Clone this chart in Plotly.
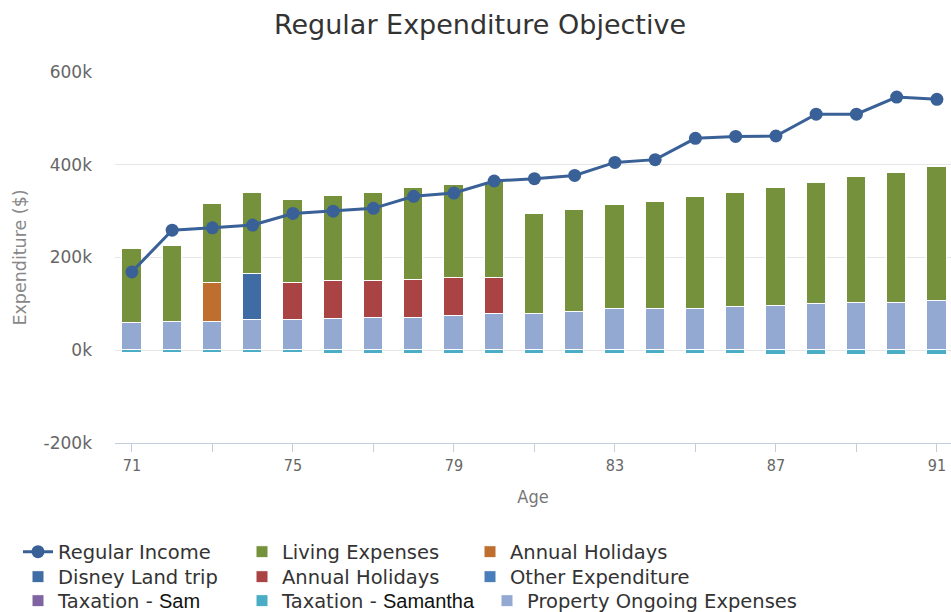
import plotly.graph_objects as go

# ---------------- data (values in $) ----------------
ages = [71, 72, 73, 74, 75, 76, 77, 78, 79, 80, 81, 82, 83, 84, 85, 86, 87, 88, 89, 90, 91]

regular_income = [169000, 259000, 264000, 270000, 295000, 300000, 306000, 332000, 339000, 365000,
                  370000, 377000, 405000, 411000, 457000, 461000, 462000, 509000, 509000, 546000, 541000]

living_expenses = [159000, 163000, 171000, 174000, 180000, 183000, 190000, 197000, 202000, 208000,
                   214000, 220000, 225000, 231000, 240000, 246000, 253000, 260000, 271000, 281000, 289000]

annual_holidays_1 = [0, 0, 84000, 0, 0, 0, 0, 0, 0, 0,
                     0, 0, 0, 0, 0, 0, 0, 0, 0, 0, 0]

disney_land_trip = [0, 0, 0, 99000, 0, 0, 0, 0, 0, 0,
                    0, 0, 0, 0, 0, 0, 0, 0, 0, 0, 0]

annual_holidays_2 = [0, 0, 0, 0, 79000, 81000, 79000, 82000, 81000, 76000,
                     0, 0, 0, 0, 0, 0, 0, 0, 0, 0, 0]

other_expenditure = [0] * 21

taxation_sam = [0] * 21

taxation_samantha = [-5000, -5000, -5000, -5000, -5000, -8000, -8000, -8000, -8000, -8000,
                     -8000, -8000, -8000, -8000, -8000, -8000, -11000, -11000, -11000, -11000, -11000]

property_ongoing = [59000, 61000, 61000, 66000, 66000, 68000, 70000, 70000, 74000, 79000,
                    79000, 83000, 88000, 88000, 90000, 93000, 96000, 100000, 102000, 102000, 106000]

x_tick_vals = [71, 73, 75, 77, 79, 81, 83, 85, 87, 89, 91]
x_tick_text = ["71", "", "75", "", "79", "", "83", "", "87", "", "91"]
y_tick_vals = [-200000, 0, 200000, 400000, 600000]
y_tick_text = ["-200k", "0k", "200k", "400k", "600k"]

# ---------------- styling ----------------
C_LINE = "#3A6197"
C_LIVING = "#76913B"
C_AH1 = "#BE6F2F"
C_DISNEY = "#3F6CA5"
C_AH2 = "#AA4343"
C_OTHER = "#4A7EBB"
C_TAXSAM = "#8064A2"
C_TAXSAMANTHA = "#4BACC6"
C_PROP = "#93A9D2"

LEG_FONT = dict(family="DejaVu Sans", size=19.5, color="#333333")
SAM_SPAN = "<span style='font-family:Liberation Sans;font-size:20px;color:#111111'>%s</span>"

fig = go.Figure()

def add_bar(name, values, color, legend, rank, width_px):
    fig.add_trace(go.Bar(
        x=ages, y=values, name=name,
        marker=dict(color=color, line=dict(color="white", width=1)),
        width=0.48, legend=legend, legendrank=rank, legendwidth=width_px,
    ))

# stacking order: bottom first
add_bar("Property Ongoing Expenses", property_ongoing, C_PROP, "legend3", 9, 330)
add_bar("Annual Holidays", annual_holidays_1, C_AH1, "legend", 3, 330)
add_bar("Disney Land trip", disney_land_trip, C_DISNEY, "legend2", 4, 179)
add_bar("Annual Holidays", annual_holidays_2, C_AH2, "legend2", 5, 183)
add_bar("Other Expenditure", other_expenditure, C_OTHER, "legend2", 6, 330)
add_bar("Living Expenses", living_expenses, C_LIVING, "legend", 2, 183)
add_bar("Taxation - " + SAM_SPAN % "Sam", taxation_sam, C_TAXSAM, "legend3", 7, 179)
add_bar("Taxation - " + SAM_SPAN % "Samantha", taxation_samantha, C_TAXSAMANTHA, "legend3", 8, 200)

fig.add_trace(go.Scatter(
    x=ages, y=regular_income, name="Regular Income", mode="lines+markers",
    line=dict(color=C_LINE, width=3), marker=dict(color=C_LINE, size=13),
    legend="legend", legendrank=1, legendwidth=179,
))

PLOT_L, PLOT_T, PLOT_B = 115, 72, 443
W, H = 951, 612
plot_h = PLOT_B - PLOT_T

def leg(ypix):
    return dict(
        orientation="h", x=(18 - PLOT_L) / (W - PLOT_L), xanchor="left",
        y=-(ypix - PLOT_B) / plot_h, yanchor="middle",
        font=LEG_FONT, traceorder="normal", bgcolor="rgba(0,0,0,0)",
    )

fig.update_layout(
    width=W, height=H,
    margin=dict(l=PLOT_L, r=0, t=PLOT_T, b=H - PLOT_B, pad=0, autoexpand=False),
    paper_bgcolor="white", plot_bgcolor="white",
    barmode="relative", bargap=0,
    title=dict(text="Regular Expenditure Objective", x=480 / W, xanchor="center",
               y=1 - 25 / H, yanchor="middle", yref="container",
               font=dict(family="DejaVu Sans", size=27, color="#333333")),
    xaxis=dict(range=[70.58, 91.35], tickvals=x_tick_vals, ticktext=x_tick_text,
               showgrid=False, zeroline=False, showline=True, linecolor="#C0D0E0", linewidth=1,
               ticks="outside", ticklen=8, tickcolor="#C0D0E0",
               tickfont=dict(family="DejaVu Sans Condensed, DejaVu Sans", size=16, color="#666666"),
               title=dict(text="Age", standoff=16,
                          font=dict(family="DejaVu Sans Condensed, DejaVu Sans", size=18, color="#777777"))),
    yaxis=dict(range=[-200000, 600000], tickvals=y_tick_vals, ticktext=y_tick_text,
               showgrid=True, gridcolor="#E6E6E6", gridwidth=1, zeroline=False, showline=False,
               ticks="", ticklabelstandoff=22,
               tickfont=dict(family="DejaVu Sans", size=17, color="#666666"),
               title=dict(text="Expenditure ($)", standoff=12,
                          font=dict(family="DejaVu Sans", size=17.5, color="#888888"))),
    legend=leg(552), legend2=leg(577), legend3=leg(601),
    showlegend=True,
)

fig.write_html("out.html", config={"displayModeBar": False},
               post_script="document.body.style.margin='0';document.body.style.overflow='hidden';")
